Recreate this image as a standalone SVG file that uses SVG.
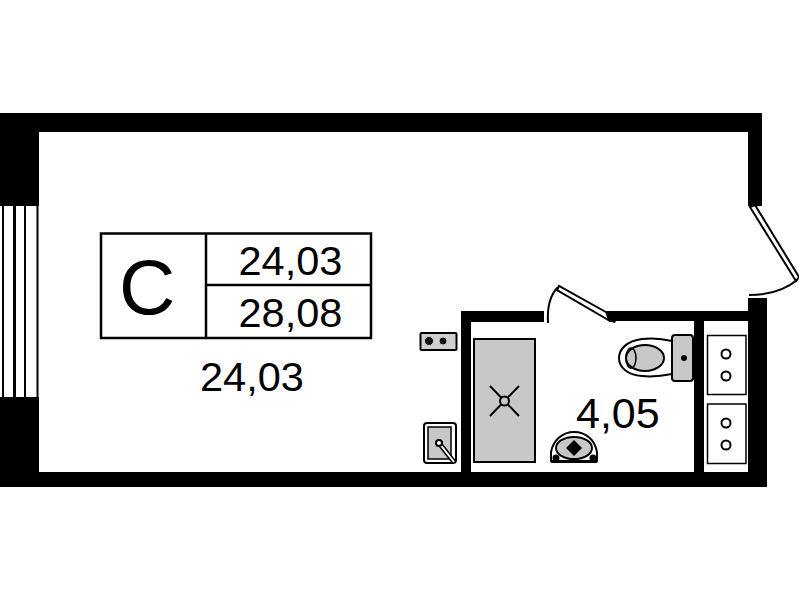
<svg xmlns="http://www.w3.org/2000/svg" width="799" height="600" viewBox="0 0 799 600">
<style>
.t{font-family:"Liberation Sans",Arial,sans-serif;font-size:41.500px;fill:#000}
.w{fill:#000;stroke:none}
.l{fill:none;stroke:#000;stroke-width:2}
.g{fill:#c8c8c8;stroke:#000;stroke-width:2}
.o{fill:#fff;stroke:#000;stroke-width:2}
</style>
<rect width="799" height="600" fill="#fff"/>
<g id="walls">
<path class="w" d="M0 113H762V206H748V132H39V206H0Z"/>
<path class="w" d="M0 397H39V472H748V298H767V487H0Z"/>
<path class="w" d="M461 311H544V322H471V472H461Z"/>
<path class="w" d="M606 311H748V321H704V472H694V321H615L606 316Z"/>
</g>
<g id="window" stroke="#000">
<path d="M3 206V397" stroke-width="2"/>
<path d="M14.500 206V397" stroke-width="3"/>
<path d="M25 206V397" stroke-width="2"/>
<path d="M37.500 206V397" stroke-width="2"/>
</g>
<g id="balcony-door">
<path class="o" d="M750 207L755 205L799 277L796 281Z" stroke-linejoin="miter"/>
<path class="l" d="M749 295C768 295 785 290 797 280"/>
</g>
<g id="bathroom-door">
<path class="o" d="M559 286L557 290L610 321L613 316Z"/>
<path class="l" d="M548 323C547 307 550 295 558 287"/>
<path class="w" d="M605 311H620L615 323L608 321Z"/>
</g>
<g id="stove">
<rect x="420.500" y="333" width="36" height="17" rx="1" fill="#d0d0d0" stroke="#000" stroke-width="2"/>
<circle cx="429" cy="341" r="4.500" fill="#111" stroke="#ccc" stroke-width="1"/>
<circle cx="443" cy="341" r="4" fill="#111" stroke="#ccc" stroke-width="1"/>
</g>
<g id="kitchen-sink">
<rect x="424" y="423" width="32" height="40" rx="3" fill="#fff" stroke="#000" stroke-width="2"/>
<rect x="428" y="427" width="23" height="32" fill="#c8c8c8" stroke="#000" stroke-width="1.500"/>
<path d="M439 443L454 462" stroke="#000" stroke-width="5"/>
<path d="M439 443L454 462" stroke="#fff" stroke-width="2"/>
<circle cx="439" cy="443" r="3" fill="#fff" stroke="#000" stroke-width="2"/>
</g>
<g id="shower">
<rect x="474" y="339" width="61" height="123" fill="#c8c8c8" stroke="#000" stroke-width="2"/>
<path d="M490 386L519 416M519 386L490 416" stroke="#000" stroke-width="2" fill="none"/>
<circle cx="504.500" cy="401" r="4.500" fill="#c8c8c8" stroke="#000" stroke-width="2"/>
</g>
<g id="washbasin">
<path class="o" d="M551 461V452C553 440 563 432 574 432C586 432 595 440 597 452V461Z" stroke-width="2"/>
<ellipse cx="574" cy="448" rx="18" ry="11" fill="#c8c8c8" stroke="#000" stroke-width="2"/>
<path class="w" d="M574 440L582 448L574 456L566 448Z"/>
<circle cx="556" cy="458" r="3.500" fill="#000"/>
<circle cx="593" cy="458" r="3.500" fill="#000"/>
<path d="M551 462H597" stroke="#000" stroke-width="2"/>
</g>
<g id="toilet">
<path class="o" d="M672 341C660 338 650 338 642 339C627 341 619 349 619 358C619 367 627 375 642 376C652 377 662 376 672 374Z" stroke-width="2.500"/>
<ellipse cx="645" cy="358" rx="19" ry="13" fill="#c8c8c8" stroke="#000" stroke-width="2"/>
<ellipse cx="631" cy="358" rx="5" ry="10" fill="none" stroke="#000" stroke-width="1.500"/>
<rect x="672" y="335" width="21" height="46" rx="3" fill="#c8c8c8" stroke="#000" stroke-width="2"/>
<circle cx="684" cy="358" r="3" fill="#000"/>
</g>
<g id="closet-1">
<rect x="707.500" y="335.500" width="38.500" height="59" fill="#fff" stroke="#000" stroke-width="1.500"/>
<circle cx="726" cy="354" r="4.500" class="o"/>
<circle cx="726" cy="376" r="4.500" class="o"/>
</g>
<g id="closet-2">
<rect x="707.500" y="404" width="38.500" height="59.500" fill="#fff" stroke="#000" stroke-width="1.500"/>
<circle cx="726" cy="423" r="4.500" class="o"/>
<circle cx="726" cy="445" r="4.500" class="o"/>
</g>
<g id="label-table">
<rect x="101" y="233.500" width="270" height="104.500" fill="#fff" stroke="#000" stroke-width="2.500"/>
<path d="M206 233.500V338M206 285H371" stroke="#000" stroke-width="2.500" fill="none"/>
<text class="t" x="119" y="314" style="font-size:78px">C</text>
<text class="t" x="238.500" y="275">24,03</text>
<text class="t" x="238.500" y="327">28,08</text>
</g>
<g id="room-labels">
<text class="t" x="200" y="391">24,03</text>
<text class="t" x="576" y="428" style="font-size:43px">4,05</text>
</g>
</svg>
